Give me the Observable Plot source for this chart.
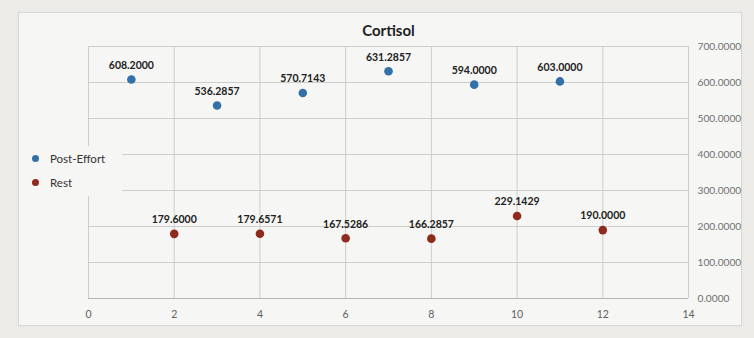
<!DOCTYPE html>
<html>
<head>
<meta charset="utf-8">
<script src="https://cdn.jsdelivr.net/npm/d3@7"></script>
<script src="https://cdn.jsdelivr.net/npm/@observablehq/plot@0.6"></script>
<style>
  html, body { margin: 0; padding: 0; background: #ecebe8; }
  #wrap { position: relative; width: 754px; height: 338px; font-family: Lato, "Open Sans", sans-serif; }
  #frame { position: absolute; left: 18px; top: 12px; width: 724px; height: 314px; background: #f6f6f4; border: 1px solid #d6d6d4; box-sizing: border-box; }
  #chart { position: absolute; left: 0; top: 0; }
  #legend { position: absolute; left: 19px; top: 146px; width: 103px; height: 50px; background: #f6f6f4; font-size: 11.5px; color: #333; }
  .li { position: absolute; left: 13px; display: flex; align-items: center; }
  .dot { width: 7px; height: 7px; border-radius: 50%; margin-right: 11px; }
</style>
</head>
<body>
<div id="wrap">
  <div id="frame"></div>
  <div id="chart"></div>
  <div id="legend"></div>
</div>
<script>
const title = "Cortisol";
const seriesNames = ["Post-Effort", "Rest"];
const seriesColors = ["#3470a8", "#8e2a1e"];
const postX = [1, 3, 5, 7, 9, 11];
const postY = [608.2, 536.2857, 570.7143, 631.2857, 594.0, 603.0];
const restX = [2, 4, 6, 8, 10, 12];
const restY = [179.6, 179.6571, 167.5286, 166.2857, 229.1429, 190.0];
const xTicks = [0, 2, 4, 6, 8, 10, 12, 14];
const yTicks = [0, 100, 200, 300, 400, 500, 600, 700];

const data = [
  ...postX.map((x, i) => ({x, y: postY[i], s: seriesNames[0]})),
  ...restX.map((x, i) => ({x, y: restY[i], s: seriesNames[1]}))
];

const chart = Plot.plot({
  width: 754,
  height: 338,
  marginLeft: 88,
  marginRight: 66,
  marginTop: 46,
  marginBottom: 40,
  style: {background: "transparent", fontFamily: "Lato, 'Open Sans', sans-serif"},
  x: {domain: [0, 14]},
  y: {domain: [0, 700]},
  color: {domain: seriesNames, range: seriesColors},
  marks: [
    Plot.gridY(yTicks.filter(d => d > 0), {stroke: "#cdcdcb", strokeOpacity: 1}),
    Plot.gridX(xTicks, {stroke: "#cdcdcb", strokeOpacity: 1}),
    Plot.ruleY([0], {stroke: "#b5b5b3"}),
    Plot.axisY(yTicks, {anchor: "right", tickSize: 0, tickPadding: 9, tickFormat: d => d.toFixed(4), fontSize: 10.2, fill: "#707070", label: null}),
    Plot.axisX(xTicks, {anchor: "bottom", tickSize: 0, tickPadding: 12, fontSize: 10.5, fill: "#606060", label: null}),
    Plot.dot(data, {x: "x", y: "y", fill: "s", r: 4.3}),
    Plot.text(data, {x: "x", y: "y", text: d => d.y.toFixed(4), dy: -14, fontSize: 10.5, fontWeight: "bold", fill: "#222"}),
    Plot.text([title], {frameAnchor: "top", dy: -21, fontSize: 15, fontWeight: "bold", fill: "#222"})
  ]
});
document.getElementById("chart").appendChild(chart);

const leg = document.getElementById("legend");
seriesNames.forEach((n, i) => {
  const el = document.createElement("div");
  el.className = "li";
  el.style.top = (6 + i * 24) + "px";
  el.innerHTML = `<span class="dot" style="background:${seriesColors[i]}"></span><span>${n}</span>`;
  leg.appendChild(el);
});
</script>
</body>
</html>
